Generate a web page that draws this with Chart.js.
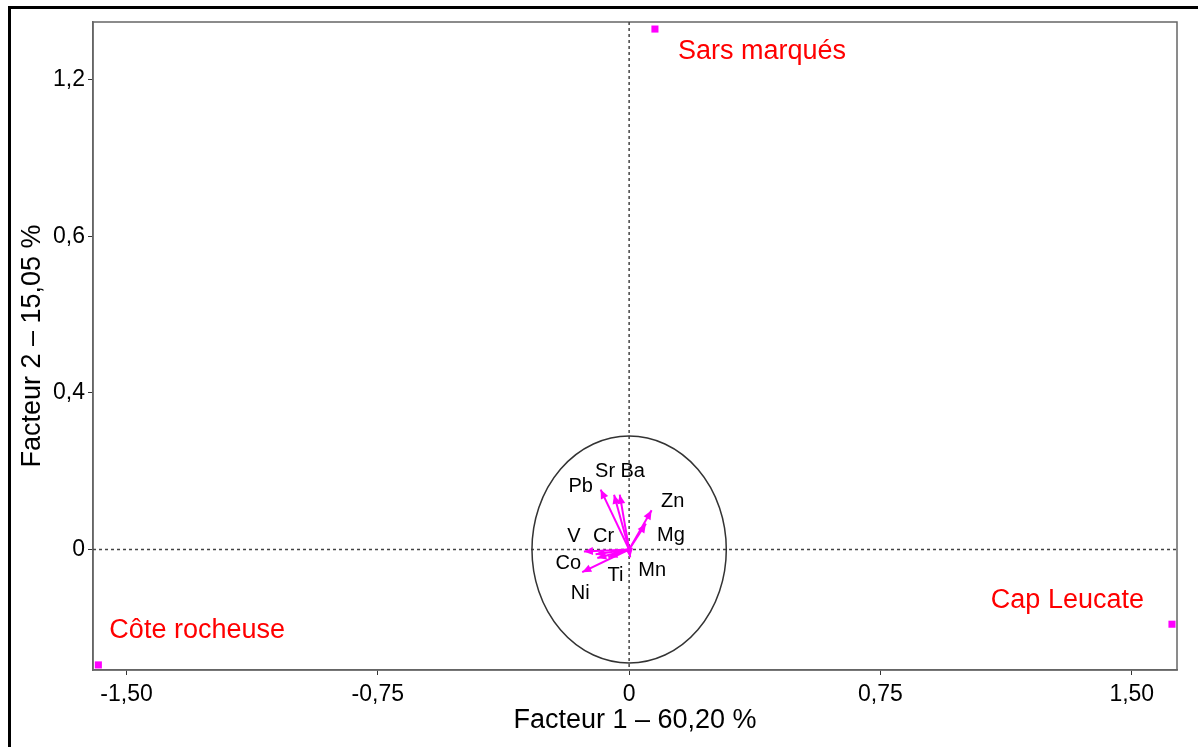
<!DOCTYPE html>
<html lang="fr">
<head>
    <meta charset="UTF-8">
    <title>ACP - Facteur 1 / Facteur 2</title>
    <script src="https://cdn.jsdelivr.net/npm/chart.js"></script>
    <style>
        body { margin: 0; background: #fff; }
        #wrap { position: relative; width: 1198px; height: 747px; }
        #frame { position: absolute; left: 8px; top: 6px; right: 0; bottom: 0;
                 border-top: 3px solid #000; border-left: 3px solid #000; pointer-events: none; }
    </style>
</head>
<body>
<div id="wrap">
    <canvas id="acpChart"></canvas>
    <div id="frame"></div>
</div>

<script>
    // sites (individus)
    const sites = ["Sars marqués", "Côte rocheuse", "Cap Leucate"];
    const siteF1 = [0.077, -1.584, 1.620];
    const siteF2 = [1.330, -0.295, -0.191];

    // éléments (variables), vecteurs depuis l'origine
    const elements = ["Pb", "Sr", "Ba", "Zn", "Mg", "V", "Cr", "Co", "Ti", "Ni", "Mn"];
    const elemF1 = [-0.085, -0.045, -0.028, 0.067, 0.050, -0.135, -0.100, -0.095, -0.062, -0.140, 0.003];
    const elemF2 = [0.153, 0.140, 0.140, 0.100, 0.066, -0.005, -0.012, -0.022, -0.020, -0.058, -0.020];

    const circleRadius = 0.29;

    const xTickValues = [-1.5, -0.75, 0, 0.75, 1.5];
    const xTickLabels = ["-1,50", "-0,75", "0", "0,75", "1,50"];
    const yTickValues = [0, 0.4, 0.8, 1.2];
    const yTickLabels = ["0", "0,4", "0,6", "1,2"];

    const FONT = "'Liberation Sans', Arial, sans-serif";
    const MAGENTA = "#ff00ff";

    // label offsets in pixels (relative to the mark)
    const siteLabelPos = {
        "Sars marqués": { dx: 23, dy: 23, align: "left" },
        "Côte rocheuse": { dx: 11, dy: -34, align: "left" },
        "Cap Leucate": { dx: -28, dy: -24, align: "right" }
    };
    const elemLabelPos = {
        Pb: [-20, -3], Sr: [-9, -23], Ba: [13, -23], Zn: [21, -9], Mg: [25, 12],
        V: [-10, -15], Cr: [8, -18], Co: [-29, 5], Ti: [7, 18], Mn: [22, 13], Ni: [-2, 21]
    };

    const acpPlugin = {
        id: "acp",
        beforeDatasetsDraw(chart) {
            const { ctx, chartArea: a, scales: { x, y } } = chart;
            ctx.save();
            // frame
            ctx.strokeStyle = "#666";
            ctx.lineWidth = 1.5;
            ctx.strokeRect(a.left, a.top, a.right - a.left, a.bottom - a.top);
            // dotted axes through the origin
            ctx.strokeStyle = "#444";
            ctx.lineWidth = 1.5;
            ctx.setLineDash([3, 3]);
            ctx.beginPath();
            ctx.moveTo(x.getPixelForValue(0), a.top);
            ctx.lineTo(x.getPixelForValue(0), a.bottom);
            ctx.moveTo(a.left, y.getPixelForValue(0));
            ctx.lineTo(a.right, y.getPixelForValue(0));
            ctx.stroke();
            ctx.setLineDash([]);
            // correlation circle
            const cx = x.getPixelForValue(0), cy = y.getPixelForValue(0);
            const rx = x.getPixelForValue(circleRadius) - cx;
            const ry = cy - y.getPixelForValue(circleRadius);
            ctx.strokeStyle = "#333";
            ctx.lineWidth = 1.5;
            ctx.beginPath();
            ctx.ellipse(cx, cy, rx, ry, 0, 0, Math.PI * 2);
            ctx.stroke();
            ctx.restore();
        },
        afterDatasetsDraw(chart) {
            const { ctx } = chart;
            ctx.save();
            // arrow heads + element labels
            chart.data.datasets.forEach((ds, i) => {
                if (!ds.isArrow) return;
                const pts = chart.getDatasetMeta(i).data;
                const p0 = pts[0], p1 = pts[1];
                const ang = Math.atan2(p1.y - p0.y, p1.x - p0.x);
                const L = 9, W = 4;
                ctx.fillStyle = MAGENTA;
                ctx.beginPath();
                ctx.moveTo(p1.x, p1.y);
                ctx.lineTo(p1.x - L * Math.cos(ang) + W * Math.sin(ang), p1.y - L * Math.sin(ang) - W * Math.cos(ang));
                ctx.lineTo(p1.x - L * Math.cos(ang) - W * Math.sin(ang), p1.y - L * Math.sin(ang) + W * Math.cos(ang));
                ctx.closePath();
                ctx.fill();
                const off = elemLabelPos[ds.label] || [0, 0];
                ctx.fillStyle = "#000";
                ctx.font = "20px " + FONT;
                ctx.textAlign = "center";
                ctx.textBaseline = "middle";
                ctx.fillText(ds.label, p1.x + off[0], p1.y + off[1]);
            });
            // site labels
            const meta = chart.getDatasetMeta(0);
            ctx.fillStyle = "#ff0000";
            ctx.font = "27px " + FONT;
            ctx.textBaseline = "middle";
            sites.forEach((s, j) => {
                const p = meta.data[j];
                const o = siteLabelPos[s];
                ctx.textAlign = o.align;
                ctx.fillText(s, p.x + o.dx, p.y + o.dy);
            });
            ctx.restore();
        }
    };

    const datasets = [{
        label: "Sites",
        type: "scatter",
        data: sites.map((s, i) => ({ x: siteF1[i], y: siteF2[i] })),
        pointStyle: "rect",
        pointRadius: 5,
        backgroundColor: MAGENTA,
        borderColor: MAGENTA,
        borderWidth: 0,
        clip: false
    }];
    elements.forEach((el, i) => {
        datasets.push({
            label: el,
            isArrow: true,
            type: "line",
            data: [{ x: 0, y: 0 }, { x: elemF1[i], y: elemF2[i] }],
            borderColor: MAGENTA,
            borderWidth: 2,
            pointRadius: 0,
            fill: false
        });
    });

    new Chart(document.getElementById("acpChart"), {
        type: "scatter",
        data: { datasets: datasets },
        options: {
            responsive: true,
            maintainAspectRatio: false,
            animation: false,
            layout: { padding: { top: 22, right: 21, left: 0, bottom: 0 } },
            plugins: {
                legend: { display: false },
                tooltip: { enabled: false }
            },
            scales: {
                x: {
                    type: "linear",
                    min: -1.6,
                    max: 1.635,
                    afterBuildTicks: s => { s.ticks = xTickValues.map(v => ({ value: v })); },
                    afterFit: s => { s.height = 77; },
                    ticks: {
                        autoSkip: false,
                        maxRotation: 0,
                        padding: 6,
                        color: "#000",
                        font: { family: FONT, size: 23 },
                        callback: v => xTickLabels[xTickValues.indexOf(v)]
                    },
                    grid: { drawOnChartArea: false, tickLength: 5, color: "#333" },
                    border: { color: "#666", width: 1.5 },
                    title: {
                        display: true,
                        text: "Facteur 1 – 60,20 %",
                        color: "#000",
                        font: { family: FONT, size: 27 },
                        padding: { top: 0, bottom: 10 }
                    }
                },
                y: {
                    type: "linear",
                    min: -0.308,
                    max: 1.348,
                    afterBuildTicks: s => { s.ticks = yTickValues.map(v => ({ value: v })); },
                    afterFit: s => { s.width = 93; },
                    ticks: {
                        autoSkip: false,
                        padding: 3,
                        color: "#000",
                        font: { family: FONT, size: 23 },
                        callback: v => yTickLabels[yTickValues.indexOf(v)]
                    },
                    grid: { drawOnChartArea: false, tickLength: 5, color: "#333" },
                    border: { color: "#666", width: 1.5 },
                    title: {
                        display: true,
                        text: "Facteur 2 – 15,05 %",
                        color: "#000",
                        font: { family: FONT, size: 27 },
                        padding: { top: 16, bottom: 0 }
                    }
                }
            }
        },
        plugins: [acpPlugin]
    });
</script>
</body>
</html>
